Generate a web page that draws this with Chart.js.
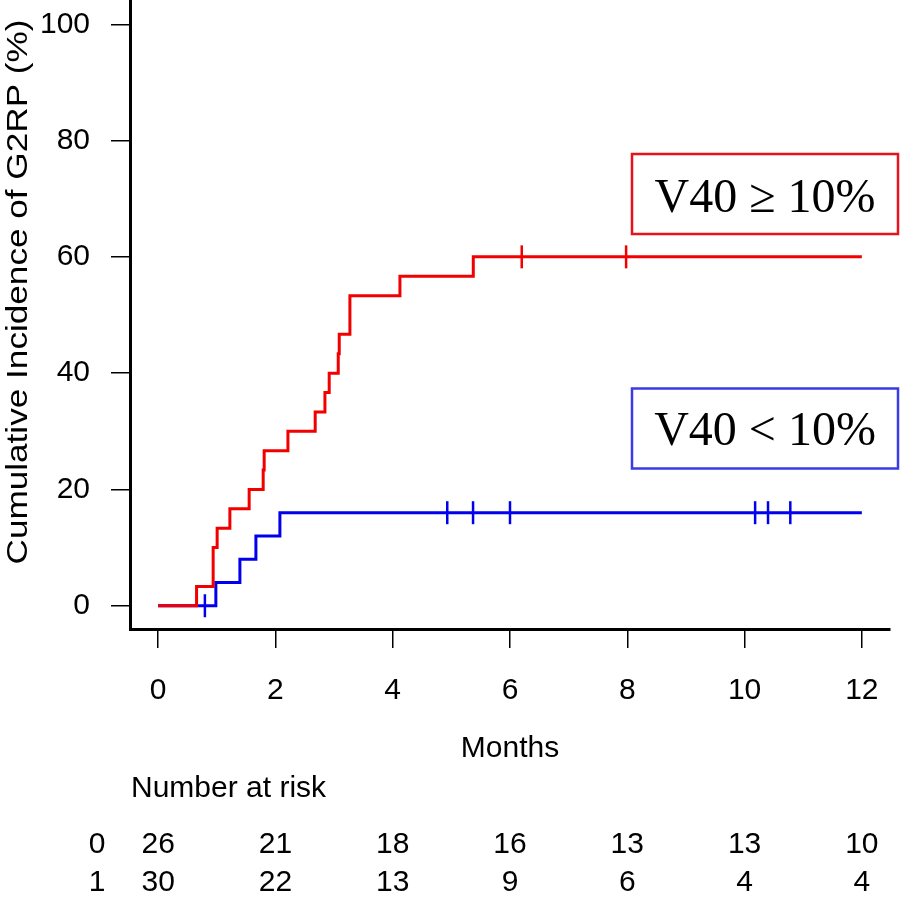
<!DOCTYPE html>
<html>
<head>
<meta charset="utf-8">
<script src="https://cdn.jsdelivr.net/npm/chart.js@4.4.0/dist/chart.umd.min.js"></script>
<style>
  html, body { margin: 0; padding: 0; background: #fff; }
  #wrap { width: 912px; height: 898px; }
</style>
</head>
<body>
<div id="wrap"><canvas id="grafico" width="912" height="898"></canvas></div>
<script>
// V40 >= 10% (group 1, red)
const redTimes  = [0, 0.655, 0.938, 1.006, 1.223, 1.552, 1.791, 1.808, 2.213, 2.678, 2.844, 2.917, 3.071, 3.088, 3.270, 4.123, 5.374, 12];
const redValues = [0, 3.33, 10, 13.33, 16.67, 20, 23.33, 26.67, 30, 33.33, 36.67, 40, 43.33, 46.67, 53.33, 56.67, 60, 60];
const redCensorTimes  = [6.20, 7.98];
const redCensorLevels = [60, 60];

// V40 < 10% (group 0, blue)
const blueTimes  = [0, 0.984, 1.394, 1.667, 2.076, 12];
const blueValues = [0, 4, 8, 12, 16, 16];
const blueCensorTimes  = [0.797, 4.93, 5.37, 6.0, 10.18, 10.40, 10.78];
const blueCensorLevels = [0, 16, 16, 16, 16, 16, 16];

const xTicks = [0, 2, 4, 6, 8, 10, 12];
const yTicks = [0, 20, 40, 60, 80, 100];

const riskGroups = ["0", "1"];
const riskGroup0 = [26, 21, 18, 16, 13, 13, 10];
const riskGroup1 = [30, 22, 13, 9, 6, 4, 4];

const legendRed = "V40 \u2265 10%";
const legendBlue = "V40 < 10%";

const RED = "#f20000";
const BLUE = "#0000ee";
const SANS = '"Liberation Sans", Arial, sans-serif';
const SERIF = '"Liberation Serif", "Times New Roman", serif';

function pontos(xs, ys) {
    return xs.map((x, i) => ({ x: x, y: ys[i] }));
}

function censura(xs, ys, cor) {
    return {
        data: pontos(xs, ys),
        showLine: false,
        pointStyle: "line",
        rotation: 90,
        pointRadius: 11.5,
        pointBorderWidth: 2.5,
        pointBorderColor: cor,
        pointBackgroundColor: cor
    };
}

const extras = {
    id: "extras",
    afterDraw(chart) {
        const ctx = chart.ctx;
        const xs = chart.scales.x;
        ctx.save();
        ctx.fillStyle = "#000";

        ctx.font = "30px " + SANS;
        ctx.textAlign = "center";
        ctx.textBaseline = "alphabetic";
        ctx.fillText("Months", xs.getPixelForValue(6), 757);

        ctx.textAlign = "left";
        ctx.fillText("Number at risk", 131, 797);

        const linhas = [riskGroup0, riskGroup1];
        const bases = [853, 891];
        ctx.textAlign = "center";
        linhas.forEach((linha, r) => {
            ctx.fillText(riskGroups[r], 97, bases[r]);
            linha.forEach((n, i) => {
                ctx.fillText(String(n), xs.getPixelForValue(xTicks[i]), bases[r]);
            });
        });

        // y title
        const titulo = "Cumulative Incidence of G2RP (%)";
        ctx.save();
        ctx.translate(19, 292);
        ctx.rotate(-Math.PI / 2);
        const w = ctx.measureText(titulo).width;
        ctx.scale(545 / w, 1);
        ctx.textBaseline = "middle";
        ctx.fillText(titulo, 0, 0);
        ctx.restore();

        // legend boxes
        ctx.lineWidth = 2.5;
        ctx.strokeStyle = "#e8121c";
        ctx.strokeRect(632, 154, 266, 80);
        ctx.strokeStyle = "#3a3ae6";
        ctx.strokeRect(632, 388.5, 266, 80);
        ctx.font = "48px " + SERIF;
        ctx.textAlign = "center";
        ctx.fillText(legendRed, 765, 211.5);
        ctx.fillText(legendBlue, 765, 445);

        ctx.restore();
    }
};

function criarGrafico() {
    const tickFont = { family: SANS, size: 30 };
    new Chart(document.getElementById("grafico"), {
        type: "scatter",
        data: {
            datasets: [
                { ...censura(redCensorTimes, redCensorLevels, RED) },
                {
                    data: pontos(redTimes, redValues),
                    showLine: true,
                    stepped: "before",
                    borderColor: RED,
                    borderWidth: 3,
                    pointRadius: 0
                },
                { ...censura(blueCensorTimes, blueCensorLevels, BLUE) },
                {
                    data: pontos(blueTimes, blueValues),
                    showLine: true,
                    stepped: "before",
                    borderColor: BLUE,
                    borderWidth: 3,
                    pointRadius: 0
                }
            ]
        },
        options: {
            responsive: false,
            animation: false,
            layout: { autoPadding: false, padding: { top: 1, right: 22, left: 0, bottom: 0 } },
            plugins: {
                legend: { display: false },
                tooltip: { enabled: false }
            },
            scales: {
                x: {
                    type: "linear",
                    min: -0.48,
                    max: 12.48,
                    afterBuildTicks: axis => { axis.ticks = xTicks.map(v => ({ value: v })); },
                    afterFit: axis => {
                        axis.height = 269;
                        axis.paddingLeft = 0;
                        axis.paddingRight = 0;
                    },
                    border: { color: "#000", width: 3 },
                    grid: { drawOnChartArea: false, tickLength: 19, color: "#000", lineWidth: 1.5 },
                    ticks: { font: tickFont, color: "#000", padding: 25, autoSkip: false, maxRotation: 0 }
                },
                y: {
                    type: "linear",
                    min: -4,
                    max: 104,
                    afterBuildTicks: axis => { axis.ticks = yTicks.map(v => ({ value: v })); },
                    afterFit: axis => {
                        axis.width = 130;
                        axis.paddingTop = 0;
                        axis.paddingBottom = 0;
                    },
                    border: { color: "#000", width: 3 },
                    grid: { drawOnChartArea: false, tickLength: 19, color: "#000", lineWidth: 1.5 },
                    ticks: { font: tickFont, color: "#000", padding: 21 }
                }
            }
        },
        plugins: [extras]
    });
}

document.addEventListener("DOMContentLoaded", () => {
    criarGrafico();
});
</script>
</body>
</html>
